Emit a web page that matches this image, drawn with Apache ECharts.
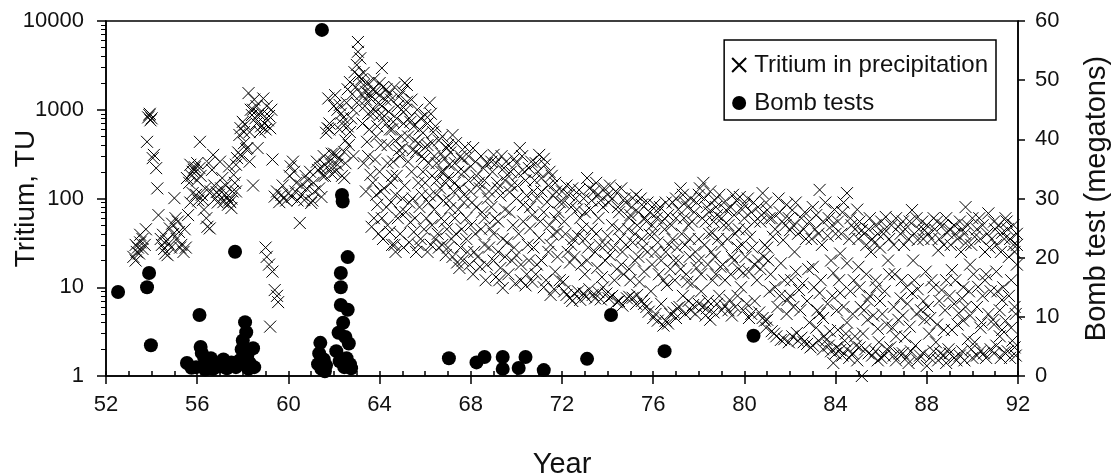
<!DOCTYPE html>
<html>
<head>
<meta charset="utf-8">
<script src="https://cdn.jsdelivr.net/npm/echarts@6/dist/echarts.min.js"></script>
<style>
html,body{margin:0;padding:0;background:#fff;}
#chart{width:1115px;height:476px;}
</style>
</head>
<body>
<div id="chart"></div>
<script>
// tick labels
const yearTicks = [52,56,60,64,68,72,76,80,84,88,92];
const tuTicks = [1,10,100,1000,10000];
const mtTicks = [0,10,20,30,40,50,60];

// Tritium in precipitation [year, TU]
const tritium1953_59 = [[53.2,22],[53.3,20],[53.35,25],[53.4,28],[53.45,24],[53.5,32],[53.5,39],[53.6,27],[53.7,30],[53.75,45],[53.8,435],[53.85,820],[53.9,870],[53.95,760],[53.92,900],[54.05,285],[54.1,310],[54.2,220],[54.25,130],[54.3,65],[54.4,35],[54.45,30],[54.5,39],[54.55,27],[54.6,24],[54.7,23],[54.75,31],[54.8,46],[54.85,28],[54.9,52],[55.0,101],[55.05,60],[55.1,35],[55.2,42],[55.25,28],[55.3,30],[55.4,25],[55.5,28],[55.55,170],[55.6,65],[55.65,150],[55.7,240],[55.75,180],[55.8,115],[55.85,210],[55.9,225],[55.95,110],[56.0,160],[56.05,95],[56.1,220],[56.12,435],[56.2,110],[56.25,96],[56.3,75],[56.4,60],[56.45,48],[56.55,46],[56.6,120],[56.7,310],[56.75,140],[56.8,100],[56.85,118],[56.9,90],[57.0,260],[57.05,130],[57.1,170],[57.15,91],[57.2,110],[57.3,104],[57.35,85],[57.4,95],[57.45,91],[57.5,78],[57.55,120],[57.6,185],[57.65,150],[57.7,240],[57.75,285],[57.8,330],[57.85,520],[57.9,620],[58.0,730],[58.05,560],[58.1,680],[58.15,360],[58.2,370],[58.25,1540],[58.3,260],[58.35,1000],[58.4,870],[58.45,140],[58.5,1300],[58.55,800],[58.6,700],[58.65,370],[58.7,900],[58.8,650],[58.9,1340],[58.95,700],[59.0,600],[59.1,760],[59.2,620],[59.25,1000],[59.3,275]];

const tritium1959_64 = [[59.0,28],[59.05,22],[59.15,18],[59.3,15],[59.4,9.3],[59.5,8],[59.55,6.8],[59.2,3.6],[59.4,105],[59.5,120],[59.6,91],[59.7,110],[59.75,140],[59.8,100],[59.9,95],[60.0,115],[60.1,230],[60.15,104],[60.2,260],[60.25,200],[60.35,150],[60.4,95],[60.5,53],[60.6,110],[60.7,96],[60.8,130],[60.85,160],[60.95,200],[61.0,89],[61.05,95],[61.15,120],[61.25,260],[61.3,210],[61.4,220],[61.45,104],[61.5,180],[61.55,300],[61.6,240],[61.7,225],[61.72,620],[61.75,1340],[61.8,700],[61.85,270],[61.9,190],[61.95,230],[62.0,1100],[62.05,1460],[62.05,200],[62.1,310],[62.15,240],[62.2,280],[62.25,1130],[62.3,900],[62.35,180],[62.4,810],[62.45,335],[62.45,170],[62.5,250],[62.55,1200],[62.6,650],[62.65,400],[62.7,560],[62.7,2050],[62.8,1500],[62.85,1000],[62.9,2650],[62.95,1800],[63.0,3200],[63.05,4500],[63.05,5800],[63.1,2400],[63.15,3800],[63.2,1500],[63.25,700],[63.3,1900],[63.35,1100],[63.4,1600],[63.45,435],[63.5,900],[63.55,600],[63.6,1340],[63.6,185],[63.65,48],[63.7,1700],[63.75,1000],[63.8,275],[63.85,500],[63.9,85],[63.95,1200],[64.0,1460],[64.0,870],[64.05,120]];

const tritiumExtra1953_63 = [[53.3,30],[53.6,35],[54.0,800],[54.65,33],[54.95,40],[55.15,55],[55.45,45],[55.7,90],[55.8,200],[56.0,250],[56.15,180],[56.35,130],[56.5,250],[56.65,210],[56.95,110],[57.25,140],[57.4,230],[57.5,100],[57.7,120],[57.95,300],[58.05,420],[58.3,560],[58.45,1000],[58.6,1100],[58.75,560],[58.85,900],[59.05,1100],[59.15,850],[60.05,180],[60.3,120],[60.55,140],[60.75,180],[61.1,150],[61.35,130],[61.6,180],[61.65,550],[61.8,600],[61.9,320],[62.0,320],[62.15,1000],[62.25,600],[62.35,700],[62.5,450],[62.6,1700],[62.75,800],[62.85,300],[63.0,1200]];

const tritium1964_72 = [[64.1,2950],[64.15,1800],[64.2,130],[64.25,1300],[64.3,700],[64.35,400],[64.4,1500],[64.45,42],[64.5,91],[64.55,600],[64.6,260],[64.6,730],[64.65,30],[64.7,25],[64.75,180],[64.8,1100],[64.85,350],[64.9,70],[64.95,500],[65.0,370],[65.0,1600],[65.1,140],[65.15,1000],[65.2,1900],[65.2,1230],[65.25,260],[65.3,90],[65.35,54],[65.35,730],[65.4,200],[65.5,42],[65.55,450],[65.6,25],[65.6,335],[65.7,150],[65.75,600],[65.8,35],[65.85,110],[65.9,200],[65.95,280],[66.0,870],[66.05,60],[66.1,400],[66.2,108],[66.2,1200],[66.25,30],[66.3,180],[66.35,560],[66.4,75],[66.5,250],[66.55,40],[66.6,28],[66.65,130],[66.7,320],[66.8,95],[66.85,55],[66.9,23],[66.95,370],[67.0,170],[67.05,240],[67.1,78],[67.15,35],[67.2,520],[67.25,120],[67.3,60],[67.4,19],[67.45,200],[67.5,16.5],[67.55,300],[67.6,45],[67.7,110],[67.8,60],[67.85,25],[67.9,160],[68.0,230],[68.05,90],[68.1,14],[68.1,370],[68.2,40],[68.3,22],[68.35,150],[68.4,130],[68.5,70],[68.55,220],[68.6,30],[68.7,18],[68.75,100],[68.85,46],[68.9,260],[69.0,310],[69.05,60],[69.1,13],[69.15,150],[69.2,25],[69.3,108],[69.3,16.5],[69.4,9.8],[69.45,220],[69.5,75],[69.6,32],[69.6,185],[69.7,118],[69.8,20],[69.85,50],[69.9,280],[70.0,23],[70.05,140],[70.15,370],[70.2,12],[70.3,85],[70.35,200],[70.45,14],[70.45,108],[70.5,30],[70.6,46],[70.65,260],[70.7,11.5],[70.7,65],[70.8,160],[70.9,18],[71.0,36],[71.0,310],[71.1,120],[71.2,10],[71.25,240],[71.35,91],[71.4,25],[71.5,8.2],[71.55,180],[71.6,39],[71.6,108],[71.7,15],[71.8,42],[71.85,70],[71.9,91]];

const tritiumUpper1963_72 = [[63.2,2200],[63.3,2600],[63.4,1300],[63.5,2000],[63.55,1500],[63.7,900],[63.75,2200],[63.8,1600],[63.9,650],[64.0,2000],[64.05,400],[64.1,1100],[64.2,850],[64.3,1700],[64.35,250],[64.4,950],[64.45,600],[64.5,1300],[64.55,180],[64.65,1800],[64.7,450],[64.75,800],[64.85,1400],[64.9,300],[64.95,1000],[65.05,700],[65.1,2000],[65.25,500],[65.3,800],[65.4,1300],[65.45,350],[65.5,650],[65.65,1000],[65.7,420],[65.8,800],[65.85,300],[65.9,550],[66.0,380],[66.1,700],[66.15,250],[66.25,900],[66.3,420],[66.4,300],[66.45,650],[66.5,160],[66.6,450],[66.7,200],[66.75,500],[66.85,280],[66.9,150],[67.0,400],[67.1,330],[67.3,250],[67.35,420],[67.5,130],[67.6,280],[67.7,200],[67.75,380],[67.9,300],[68.0,120],[68.2,260],[68.25,180],[68.45,300],[68.6,160],[68.7,250],[68.8,120],[68.95,200],[69.1,250],[69.2,130],[69.35,300],[69.5,160],[69.55,260],[69.75,200],[69.8,140],[70.0,250],[70.1,190],[70.25,300],[70.4,160],[70.55,220],[70.75,120],[70.85,250],[70.95,200],[71.1,170],[71.2,280],[71.4,140],[71.45,200],[71.7,150],[71.75,120]];

const tritiumLower1963_72 = [[63.3,250],[63.4,120],[63.5,300],[63.7,150],[63.75,60],[63.85,110],[63.95,40],[64.0,200],[64.1,60],[64.15,35],[64.3,80],[64.35,50],[64.5,150],[64.55,30],[64.7,110],[64.8,60],[64.9,40],[65.0,100],[65.05,28],[65.15,70],[65.3,32],[65.45,100],[65.55,60],[65.7,30],[65.75,80],[65.95,45],[66.0,150],[66.1,25],[66.15,90],[66.3,50],[66.45,35],[66.5,110],[66.7,60],[66.75,30],[66.8,200],[66.95,45],[67.0,28],[67.05,95],[67.2,22],[67.3,150],[67.35,40],[67.45,75],[67.55,28],[67.65,20],[67.7,90],[67.8,35],[67.95,18],[68.0,50],[68.15,25],[68.25,80],[68.4,17],[68.45,45],[68.6,60],[68.65,12],[68.8,28],[68.9,80],[69.0,20],[69.0,40],[69.2,55],[69.25,12],[69.4,35],[69.5,22],[69.65,14],[69.7,70],[69.9,28],[69.95,11],[70.0,100],[70.1,40],[70.2,18],[70.3,55],[70.4,10.5],[70.55,20],[70.6,80],[70.75,28],[70.85,14],[70.9,100],[71.05,55],[71.1,20],[71.2,70],[71.3,12],[71.45,50],[71.5,30],[71.65,9.5],[71.7,60],[71.8,22],[71.9,12]];

const tritium1972_85 = [[72.0,120],[72.05,11.5],[72.1,55],[72.2,140],[72.25,25],[72.35,19],[72.35,7.6],[72.4,80],[72.5,35],[72.6,100],[72.7,9],[72.8,60],[72.9,46],[73.0,14],[73.1,170],[73.15,28],[73.25,75],[73.35,8.2],[73.4,120],[73.5,40],[73.55,16.5],[73.6,60],[73.7,95],[73.8,10],[73.9,30],[74.0,110],[74.1,140],[74.1,23],[74.2,50],[74.3,12],[74.4,6.8],[74.45,80],[74.55,35],[74.6,18],[74.7,14],[74.75,100],[74.85,7.5],[74.9,45],[75.0,65],[75.1,101],[75.1,32],[75.1,7.6],[75.2,20],[75.3,50],[75.4,11.5],[75.5,85],[75.55,28],[75.6,6.5],[75.7,55],[75.85,70],[75.85,39],[75.9,9],[76.0,4.5],[76.1,25],[76.15,60],[76.25,14],[76.3,80],[76.45,3.7],[76.5,45],[76.6,10.6],[76.7,30],[76.75,5],[76.85,90],[76.9,20],[77.0,60],[77.05,28],[77.05,5.8],[77.2,130],[77.25,40],[77.3,8],[77.4,90],[77.5,11.5],[77.55,50],[77.6,22],[77.75,6.3],[77.8,70],[77.9,16.5],[78.0,35],[78.05,130],[78.1,9],[78.2,150],[78.2,6],[78.3,55],[78.35,80],[78.35,5.8],[78.5,4.3],[78.55,25],[78.6,41],[78.6,12],[78.7,95],[78.8,65],[78.9,8],[78.95,17],[79.0,30],[79.1,50],[79.2,74],[79.3,5.5],[79.35,7.2],[79.45,22],[79.5,110],[79.6,40],[79.7,28],[79.8,104],[79.85,10],[79.95,14.5],[80.0,60],[80.1,45],[80.25,37],[80.3,5],[80.4,90],[80.55,12],[80.6,20],[80.7,55],[80.8,115],[80.8,4.5],[80.9,30],[81.0,74],[81.0,28],[81.0,4.3],[81.1,9],[81.2,60],[81.25,37],[81.3,3],[81.45,6],[81.5,100],[81.6,18.6],[81.6,2.55],[81.7,34],[81.8,50],[81.9,7.2],[82.0,44],[82.05,12],[82.1,74],[82.2,25],[82.3,3.05],[82.4,9.3],[82.5,60],[82.6,2.4],[82.7,35],[82.8,16],[82.9,2.1],[83.0,17],[83.0,80],[83.1,45],[83.2,5.5],[83.3,125],[83.3,8.6],[83.3,5.1],[83.4,30],[83.5,2.8],[83.6,2.55],[83.7,60],[83.8,20],[83.9,14.5],[83.9,1.4],[84.0,1.8],[84.0,40],[84.1,3.3],[84.2,24],[84.2,8.6],[84.2,1.96],[84.3,70],[84.4,2.5],[84.5,115],[84.5,18.6],[84.5,4.0],[84.6,1.6],[84.7,50],[84.8,12],[84.9,2.2],[85.0,17],[85.0,35]];

const tritiumUpper1972_80 = [[72.05,90],[72.3,110],[72.45,130],[72.65,75],[72.75,125],[72.95,100],[73.0,70],[73.2,130],[73.3,95],[73.5,150],[73.6,110],[73.8,80],[73.85,130],[74.05,90],[74.2,100],[74.35,120],[74.5,70],[74.6,130],[74.8,90],[74.95,60],[75.05,80],[75.25,110],[75.35,70],[75.45,100],[75.65,60],[75.75,90],[75.95,50],[76.05,85],[76.2,70],[76.4,55],[76.55,90],[76.65,65],[76.8,50],[77.0,100],[77.1,75],[77.3,110],[77.35,60],[77.5,80],[77.65,100],[77.7,55],[77.9,90],[78.0,110],[78.15,60],[78.25,100],[78.45,70],[78.5,120],[78.65,55],[78.75,80],[78.9,110],[79.0,60],[79.1,90],[79.3,50],[79.4,80],[79.55,65],[79.65,95],[79.75,45],[79.9,75],[80.0,85],[80.15,100],[80.3,70],[80.45,55],[80.6,80],[80.75,65],[80.95,90]];

const tritiumMid1972_80 = [[72.15,40],[72.4,30],[72.55,22],[72.7,38],[72.85,18],[73.0,35],[73.1,20],[73.3,45],[73.45,25],[73.65,30],[73.75,13],[73.9,20],[74.0,38],[74.25,28],[74.4,16],[74.5,45],[74.65,25],[74.8,30],[74.95,16],[75.0,12],[75.2,40],[75.35,22],[75.5,35],[75.6,15],[75.75,25],[75.95,18],[76.05,40],[76.2,32],[76.35,20],[76.45,12],[76.55,25],[76.75,16],[76.85,35],[76.95,12],[77.1,20],[77.2,16],[77.4,30],[77.45,14],[77.6,35],[77.7,11],[77.85,25],[78.0,20],[78.1,14],[78.25,30],[78.4,18],[78.45,40],[78.7,22],[78.75,14],[78.85,35],[79.05,18],[79.15,12],[79.25,35],[79.4,14],[79.55,20],[79.75,16],[79.9,30],[80.05,22],[80.2,15],[80.35,28],[80.45,18],[80.7,16],[80.85,22]];

const tritiumLow1972_80 = [[72.1,9],[72.2,8.2],[72.45,7],[72.55,8.5],[72.8,7.2],[72.95,8.5],[73.05,7.8],[73.2,9.5],[73.45,7.5],[73.6,8.8],[73.7,7.3],[73.95,8.5],[74.05,7.5],[74.2,8],[74.5,7],[74.65,6.2],[74.95,7.8],[75.25,6.5],[75.3,8.2],[75.5,7],[75.7,6],[75.8,5.3],[76.1,5],[76.2,4.2],[76.35,6.5],[76.55,4.2],[76.65,3.9],[76.9,5.2],[77.0,4.5],[77.15,6],[77.4,5],[77.55,7],[77.65,5.5],[77.85,5],[78.0,6.5],[78.3,4.8],[78.4,7],[78.65,5.2],[78.8,6.5],[79.0,5.5],[79.15,6.2],[79.45,4.8],[79.6,6],[79.7,8],[79.95,5.5],[80.1,6.5],[80.2,4.5],[80.45,7],[80.65,5.2],[80.9,4.2]];

const tritium1985_92 = [[85.1,6],[85.15,44],[85.15,1.0],[85.2,3],[85.3,2.0],[85.4,7.2],[85.4,4.3],[85.5,60],[85.55,25],[85.6,1.7],[85.7,31.5],[85.8,10],[85.9,2.4],[86.0,1.6],[86.05,5],[86.1,40],[86.2,62],[86.3,20],[86.4,2.1],[86.5,3.5],[86.6,14],[86.75,48],[86.75,4.3],[86.8,1.8],[86.9,12],[87.0,30],[87.05,2.75],[87.15,6.5],[87.2,1.4],[87.35,74],[87.35,8.6],[87.4,20],[87.5,2.2],[87.6,34],[87.7,1.7],[87.75,5.5],[87.8,55],[87.9,44],[87.9,4.3],[88.0,1.3],[88.1,3],[88.2,12],[88.3,60],[88.4,2.4],[88.5,26],[88.6,1.8],[88.65,9.3],[88.8,5.5],[88.9,41],[88.95,2.0],[89.1,15.6],[89.1,3.3],[89.2,50],[89.3,1.5],[89.4,5.1],[89.45,1.7],[89.5,25],[89.6,10],[89.7,80],[89.7,31.5],[89.7,6.0],[89.8,2.6],[89.9,18],[90.0,1.6],[90.1,37],[90.1,2.4],[90.25,10.1],[90.3,60],[90.4,4],[90.5,1.8],[90.6,14],[90.7,68],[90.75,28],[90.8,2.0],[90.9,4.3],[91.0,45],[91.1,9],[91.2,2.8],[91.3,41],[91.3,7.2],[91.3,3.3],[91.4,1.85],[91.5,55],[91.6,22],[91.7,12],[91.75,2.5],[91.8,30],[91.9,1.7],[91.95,40],[91.95,18],[91.9,5]];

const tritiumUpper1981_92 = [[81.1,60],[81.35,45],[81.55,70],[81.65,55],[81.85,85],[81.95,60],[82.15,50],[82.25,90],[82.35,40],[82.6,45],[82.65,70],[82.85,55],[82.95,35],[83.15,65],[83.25,40],[83.45,55],[83.55,90],[83.65,38],[83.85,50],[83.95,75],[84.1,55],[84.25,40],[84.35,90],[84.6,35],[84.65,60],[84.85,45],[84.95,75],[85.05,55],[85.25,40],[85.35,30],[85.45,45],[85.6,35],[85.75,50],[85.85,40],[85.95,28],[86.0,55],[86.15,45],[86.35,35],[86.45,50],[86.55,30],[86.65,60],[86.85,40],[86.95,55],[87.05,45],[87.2,35],[87.25,55],[87.45,40],[87.55,60],[87.65,45],[87.85,35],[88.0,50],[88.05,40],[88.2,35],[88.35,45],[88.45,55],[88.55,35],[88.7,50],[88.75,30],[88.85,60],[89.0,45],[89.05,30],[89.25,40],[89.35,35],[89.45,55],[89.55,45],[89.65,40],[89.8,50],[89.95,30],[90.0,60],[90.2,45],[90.35,35],[90.45,50],[90.55,25],[90.65,40],[90.85,35],[90.95,55],[91.05,30],[91.15,50],[91.25,25],[91.4,35],[91.45,60],[91.55,45],[91.65,35],[91.8,50],[91.85,25],[91.95,30]];

const tritiumMid1981_92 = [[81.05,20],[81.15,14],[81.35,10],[81.55,8],[81.75,12],[81.85,5],[82.0,8],[82.15,6],[82.25,15],[82.45,5.5],[82.55,11],[82.75,7],[82.85,4],[83.05,10],[83.15,3.5],[83.35,12],[83.45,4.5],[83.65,6.5],[83.75,3.2],[83.85,8],[84.05,5.5],[84.15,12],[84.35,6],[84.45,3],[84.65,9],[84.75,5],[84.85,2.8],[85.05,10],[85.25,5.5],[85.35,14],[85.5,8],[85.65,4.8],[85.75,12],[85.85,3.4],[85.95,7],[86.15,9],[86.25,3.8],[86.35,14],[86.55,6],[86.65,2.8],[86.85,7.5],[86.95,4.8],[87.1,10],[87.25,3.6],[87.45,12],[87.55,5],[87.6,9.5],[87.85,7],[87.95,15],[88.05,6],[88.15,4.5],[88.3,10],[88.45,3.8],[88.55,7],[88.75,3.3],[88.85,12],[89.0,8],[89.2,6.5],[89.25,12],[89.35,3.8],[89.55,7.5],[89.6,4.2],[89.85,9],[89.9,4.8],[90.05,14],[90.2,6],[90.35,3.5],[90.45,8],[90.55,12],[90.7,5],[90.8,9],[90.95,3.8],[91.05,15],[91.2,5.5],[91.35,10],[91.45,4.2],[91.6,8],[91.7,3.5],[91.85,6]];

const tritiumLow1981_92 = [[80.95,3.5],[81.2,3.2],[81.4,2.8],[81.75,2.6],[81.95,2.4],[82.1,2.8],[82.35,2.5],[82.5,2.7],[82.75,2.3],[83.0,2.2],[83.25,2.5],[83.45,2.0],[83.7,2.2],[83.8,1.9],[84.05,2.1],[84.3,1.7],[84.5,2.0],[84.75,1.8],[84.95,1.5],[85.05,2.1],[85.45,1.8],[85.75,1.9],[85.85,1.5],[86.15,1.7],[86.25,2.0],[86.55,1.7],[86.65,1.5],[86.95,1.8],[87.1,1.6],[87.3,1.9],[87.6,1.5],[87.85,1.8],[88.15,1.6],[88.3,1.9],[88.5,1.5],[88.75,1.7],[88.85,1.4],[89.0,1.8],[89.2,1.6],[89.55,1.9],[89.65,1.5],[89.95,2.0],[90.2,1.7],[90.35,1.9],[90.6,1.6],[90.95,1.8],[91.05,2.2],[91.25,1.6],[91.55,1.9],[91.65,1.6],[91.85,2.1]];

// Bomb tests [year, megatons]
const bombTests = [[52.53,14.2],[53.8,15.0],[53.89,17.4],[53.97,5.2],[55.55,2.2],[55.75,1.4],[55.95,1.5],[56.1,10.3],[56.15,4.9],[56.2,3.9],[56.3,3.2],[56.35,1.1],[56.4,2.6],[56.5,1.8],[56.6,3.0],[56.7,1.2],[56.85,2.0],[57.0,1.6],[57.15,2.8],[57.3,1.3],[57.5,2.3],[57.66,21.0],[57.7,1.5],[57.85,2.6],[57.95,4.5],[58.0,6.0],[58.1,9.1],[58.15,7.4],[58.2,3.5],[58.25,1.2],[58.3,2.2],[58.45,4.7],[58.5,1.5],[61.3,2.0],[61.35,3.8],[61.4,5.6],[61.45,1.2],[61.47,58.5],[61.55,2.8],[61.6,0.8],[61.65,1.8],[62.1,4.2],[62.2,7.3],[62.25,2.5],[62.3,17.4],[62.3,15.0],[62.3,12.0],[62.35,30.6],[62.38,29.5],[62.4,9.0],[62.45,1.5],[62.5,6.6],[62.55,3.0],[62.6,20.1],[62.6,11.2],[62.65,5.5],[62.7,2.0],[62.75,1.3],[67.04,3.0],[68.25,2.3],[68.6,3.2],[69.4,3.2],[69.4,1.2],[70.1,1.35],[70.4,3.2],[71.2,1.0],[73.1,2.9],[74.15,10.3],[76.5,4.2],[80.4,6.8]];

const tritiumAll = [].concat(tritium1953_59, tritiumExtra1953_63, tritium1959_64, tritium1964_72,
  tritiumUpper1963_72, tritiumLower1963_72, tritium1972_85, tritiumUpper1972_80, tritiumMid1972_80,
  tritiumLow1972_80, tritium1985_92, tritiumUpper1981_92, tritiumMid1981_92, tritiumLow1981_92);

const FONT = '"Liberation Sans", Arial, sans-serif';
const TXT = '#111';
const chart = echarts.init(document.getElementById('chart'), null, {renderer: 'canvas'});
const crossPath = 'path://M0,0L10,10M10,0L0,10';

chart.setOption({
  animation: false,
  backgroundColor: '#fff',
  grid: {left: 106, right: 97, top: 21, bottom: 100, containLabel: false, outerBoundsMode: 'none',
    show: true, borderColor: '#000', borderWidth: 1.5},
  legend: {
    orient: 'vertical', right: 119, top: 40,
    borderColor: '#000', borderWidth: 1.5, padding: [13, 8, 5, 7],
    itemGap: 14, itemWidth: 20, itemHeight: 14, symbolKeepAspect: true,
    textStyle: {fontFamily: FONT, fontSize: 24, color: TXT},
    data: ['Tritium in precipitation', 'Bomb tests']
  },
  xAxis: [{
    type: 'value', min: 52, max: 92, interval: 4,
    name: 'Year', nameLocation: 'middle', nameGap: 74, nameMoveOverlap: false,
    nameTextStyle: {fontFamily: FONT, fontSize: 29, color: TXT},
    axisLine: {lineStyle: {color: '#000', width: 1.5}},
    axisTick: {show: true, inside: false, length: 8, lineStyle: {color: '#000', width: 1.5}},
    minorTick: {show: false},
    splitLine: {show: false},
    axisLabel: {fontFamily: FONT, fontSize: 22, color: TXT, margin: 18,
      formatter: v => yearTicks.indexOf(v) >= 0 ? String(v) : ''}
  }, {
    type: 'value', min: 52, max: 92, interval: 4, position: 'bottom',
    axisLine: {show: false},
    axisTick: {show: true, inside: true, length: 5, lineStyle: {color: '#000', width: 1.5}},
    minorTick: {show: true, splitNumber: 4, length: 5, lineStyle: {color: '#000', width: 1.5}},
    splitLine: {show: false}, axisLabel: {show: false}
  }],
  yAxis: [{
    type: 'log', logBase: 10, min: 1, max: 10000, position: 'left',
    name: 'Tritium, TU', nameLocation: 'middle', nameGap: 66, nameRotate: 90, nameMoveOverlap: false,
    nameTextStyle: {fontFamily: FONT, fontSize: 28, color: TXT},
    axisLine: {show: true, lineStyle: {color: '#000', width: 1.5}},
    axisTick: {show: true, inside: false, length: 9, lineStyle: {color: '#000', width: 1.5}},
    minorTick: {show: true, splitNumber: 9, length: 5, lineStyle: {color: '#000', width: 1}},
    splitLine: {show: false},
    axisLabel: {fontFamily: FONT, fontSize: 22, color: TXT, margin: 22,
      formatter: v => tuTicks.indexOf(Math.round(v)) >= 0 ? String(Math.round(v)) : ''}
  }, {
    type: 'value', min: 0, max: 60, interval: 10, position: 'right',
    name: 'Bomb test (megatons)', nameLocation: 'middle', nameGap: 64, nameRotate: 90, nameMoveOverlap: false,
    nameTextStyle: {fontFamily: FONT, fontSize: 29, color: TXT},
    axisLine: {show: true, lineStyle: {color: '#000', width: 1.5}},
    axisTick: {show: true, inside: false, length: 7, lineStyle: {color: '#000', width: 1.5}},
    splitLine: {show: false},
    axisLabel: {fontFamily: FONT, fontSize: 22, color: TXT, margin: 17,
      formatter: v => mtTicks.indexOf(v) >= 0 ? String(v) : ''}
  }],
  series: [{
    name: 'Tritium in precipitation', type: 'scatter', xAxisIndex: 0, yAxisIndex: 0,
    symbol: crossPath, symbolSize: 12,
    itemStyle: {color: 'rgba(0,0,0,0)', borderColor: '#000', borderWidth: 1, opacity: 1},
    data: tritiumAll
  }, {
    name: 'Bomb tests', type: 'scatter', xAxisIndex: 0, yAxisIndex: 1,
    symbol: 'circle', symbolSize: 14,
    itemStyle: {color: '#000', opacity: 1},
    data: bombTests
  }]
});
</script>
</body>
</html>
